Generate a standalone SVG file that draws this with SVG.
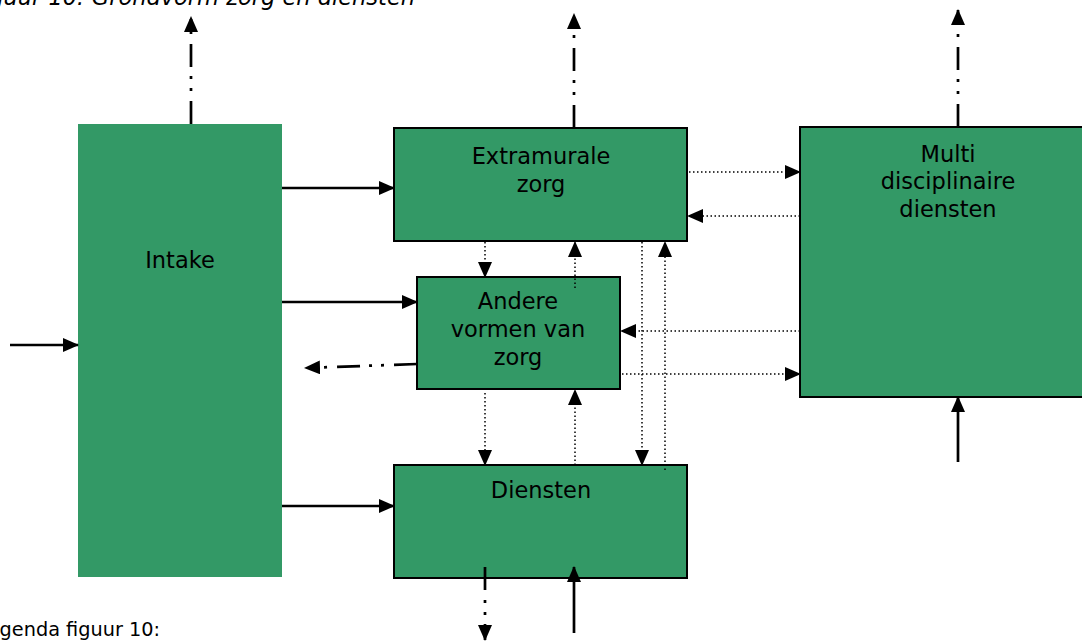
<svg xmlns="http://www.w3.org/2000/svg" width="1082" height="643" viewBox="0 0 1082 643">
  <style>
    .box { fill: #339966; stroke: #000; stroke-width: 2; }
    .plain { fill: #339966; stroke: none; }
    .lbl { font-family: "DejaVu Sans", Verdana, sans-serif; font-size: 22.5px; fill: #000; text-anchor: middle; }
    .cap { font-family: "DejaVu Sans", Verdana, sans-serif; fill: #000; }
    .solid { stroke: #000; stroke-width: 2.7; fill: none; marker-end: url(#head); }
    .dot { stroke: #000; stroke-width: 1.5; stroke-dasharray: 1.5 2.5; fill: none; marker-end: url(#head); }
    .dashdot { stroke: #000; stroke-width: 2.7; stroke-dasharray: 23 10 3 9 3 9; fill: none; marker-end: url(#head); }
  </style>
  <defs>
    <marker id="head" markerUnits="userSpaceOnUse" markerWidth="16" markerHeight="14" refX="15" refY="7" orient="auto">
      <path d="M0,0 L16,7 L0,14 Z" fill="#000"/>
    </marker>
  </defs>

  <!-- captions -->
  <text class="cap" x="415" y="5" font-size="22.5" text-anchor="end" font-style="italic">Figuur 10: Grondvorm zorg en diensten</text>
  <text class="cap" x="160" y="636" font-size="19.3" text-anchor="end">Legenda figuur 10:</text>

  <!-- nodes -->
  <g id="intake">
    <rect class="plain" x="78" y="124" width="204" height="453"/>
    <text class="lbl" x="180" y="268">Intake</text>
  </g>
  <g id="extramurale">
    <rect class="box" x="394" y="128" width="293" height="113"/>
    <text class="lbl" x="541" y="164">Extramurale</text>
    <text class="lbl" x="541" y="192">zorg</text>
  </g>
  <g id="andere">
    <rect class="box" x="417" y="277" width="203" height="112"/>
    <text class="lbl" x="518" y="309">Andere</text>
    <text class="lbl" x="518" y="337">vormen van</text>
    <text class="lbl" x="518" y="365">zorg</text>
  </g>
  <g id="diensten">
    <rect class="box" x="394" y="465" width="293" height="113"/>
    <text class="lbl" x="541" y="498">Diensten</text>
  </g>
  <g id="multi">
    <rect class="box" x="800" y="127" width="290" height="270"/>
    <text class="lbl" x="948" y="162">Multi</text>
    <text class="lbl" x="948" y="189">disciplinaire</text>
    <text class="lbl" x="948" y="217">diensten</text>
  </g>

  <!-- connectors -->
  <g id="connectors">
    <!-- solid flows -->
    <line class="solid" x1="10" y1="345" x2="78" y2="345"/>
    <line class="solid" x1="282" y1="188" x2="394" y2="188"/>
    <line class="solid" x1="282" y1="302" x2="417" y2="302"/>
    <line class="solid" x1="282" y1="506" x2="394" y2="506"/>
    <line class="solid" x1="958" y1="462" x2="958" y2="397"/>
    <line class="solid" x1="574" y1="633" x2="574" y2="567"/>

    <!-- dash-dot outflows -->
    <line class="dashdot" x1="191" y1="124" x2="191" y2="17"/>
    <line class="dashdot" x1="574" y1="128" x2="574" y2="14"/>
    <line class="dashdot" x1="958" y1="127" x2="958" y2="10"/>
    <line class="dashdot" x1="417" y1="364" x2="305" y2="368"/>
    <line class="dashdot" x1="485" y1="567" x2="485" y2="640"/>

    <!-- dotted exchanges -->
    <line class="dot" x1="689" y1="172" x2="800" y2="172"/>
    <line class="dot" x1="800" y1="216" x2="688" y2="216"/>
    <line class="dot" x1="800" y1="331" x2="621" y2="331"/>
    <line class="dot" x1="622" y1="374" x2="800" y2="374"/>
    <line class="dot" x1="485" y1="242" x2="485" y2="277"/>
    <line class="dot" x1="575" y1="288" x2="575" y2="242"/>
    <line class="dot" x1="485" y1="393" x2="485" y2="465"/>
    <line class="dot" x1="575" y1="465" x2="575" y2="390"/>
    <line class="dot" x1="642" y1="242" x2="642" y2="465"/>
    <line class="dot" x1="665" y1="470" x2="665" y2="242"/>
  </g>
</svg>
